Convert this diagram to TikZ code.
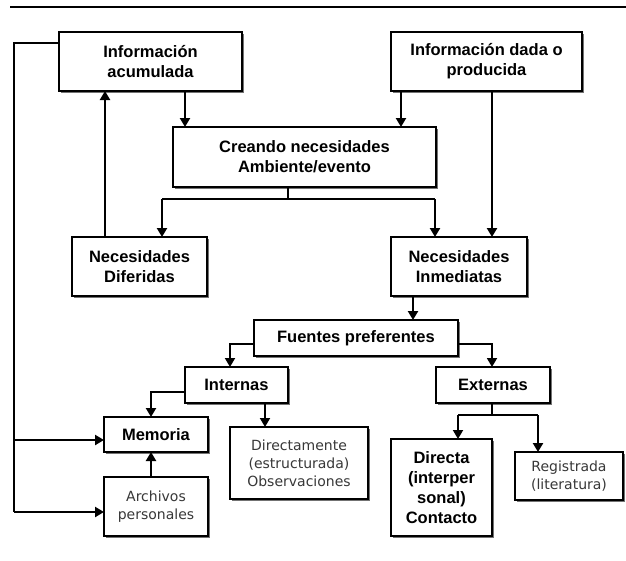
\documentclass[tikz,border=0pt]{standalone}
\usepackage{fontspec}
\setmainfont{Liberation Sans}
\newfontfamily\dvfont{DejaVu Sans}
\usetikzlibrary{arrows.meta,shadows}
\begin{document}
\begin{tikzpicture}[x=1pt,y=-1pt,
  box/.style={draw,line width=1.5pt,fill=white,align=center,inner sep=2pt,outer sep=0pt,
    font=\bfseries\fontsize{16.5}{20}\selectfont,
    drop shadow={shadow xshift=1.5pt,shadow yshift=-1.5pt,fill=black!55,opacity=1}},
  greybox/.style={box,font=\dvfont\fontsize{14}{18}\selectfont,text=black!78},
  thinln/.style={line width=1.3pt},
  arr/.style={line width=2.6pt,-{Triangle[width=10pt,length=9pt]}},
  marr/.style={line width=1.8pt,-{Triangle[width=10pt,length=9pt]}}]
\useasboundingbox (0,0) rectangle (626,560);
% top rule
\coordinate (r1) at (10,7);
\coordinate (r2) at (626,7);
\draw[thinln] (r1) -- (r2);
% nodes
\node[box,minimum width=183pt,minimum height=59pt] (ia) at (150.5,61.5) {Información\\acumulada};
\node[box,minimum width=191pt,minimum height=59pt] (id) at (486.5,61.5) {Información dada o\\producida};
\node[box,minimum width=263pt,minimum height=60pt] (cr) at (304.5,157) {Creando necesidades\\Ambiente/evento};
\node[box,minimum width=135pt,minimum height=59pt] (nd) at (139.5,266.5) {Necesidades\\Diferidas};
\node[box,minimum width=136pt,minimum height=59pt] (ni) at (459,266.5) {Necesidades\\Inmediatas};
\node[box,minimum width=204pt,minimum height=36pt] (fp) at (356,338) {Fuentes preferentes};
\node[box,minimum width=103pt,minimum height=36pt] (in) at (236.5,385) {Internas};
\node[box,minimum width=114pt,minimum height=36pt] (ex) at (493,385) {Externas};
\node[box,minimum width=104pt,minimum height=35pt] (me) at (156,434.5) {Memoria};
\node[greybox,minimum width=104pt,minimum height=59pt] (ar) at (156,506.5) {Archivos\\personales};
\node[greybox,minimum width=138pt,minimum height=72pt] (di) at (299,463) {Directamente\\(estructurada)\\Observaciones};
\node[box,minimum width=101pt,minimum height=97pt] (dc) at (441.5,487.5) {Directa\\(interper\\sonal)\\Contacto};
\node[greybox,minimum width=108pt,minimum height=48pt] (re) at (569,476) {Registrada\\(literatura)};
% connectors
\draw[arr] ([xshift=126pt]ia.south west) -- ([xshift=12pt]cr.north west);
\draw[arr] ([xshift=10pt]id.south west) -- ([xshift=-35pt]cr.north east);
\draw[arr] ([xshift=101pt]id.south west) -- ([xshift=101pt]ni.north west);
\draw[arr] ([xshift=33pt]nd.north west) -- ([xshift=46pt]ia.south west);
\coordinate (c1) at ([xshift=-16.5pt]cr.south);
\coordinate (j1) at ([yshift=-12pt]c1);
\coordinate (t1) at ([xshift=22.5pt]nd.north);
\coordinate (t2) at ([xshift=44pt]ni.north west);
\draw[thinln] (c1) -- (j1);
\draw[thinln] (t1 |- j1) -- (t2 |- j1);
\draw[arr] (t1 |- j1) -- (t1);
\draw[arr] (t2 |- j1) -- (t2);
\draw[arr] ([xshift=22pt]ni.south west) -- ([xshift=159pt]fp.north west);
\coordinate (f1) at ([yshift=-6pt]fp.west);
\coordinate (f2) at ([yshift=-6pt]fp.east);
\coordinate (t3) at ([xshift=45pt]in.north west);
\coordinate (t4) at ([xshift=56pt]ex.north west);
\draw[marr] (f1) -| (t3);
\draw[marr] (f2) -| (t4);
\draw[arr] ([yshift=-7pt]in.west) -| ([xshift=47pt]me.north west);
\draw[marr] ([xshift=80pt]in.south west) -- ([xshift=35pt]di.north west);
\draw[arr] ([xshift=47pt]ar.north west) -- ([xshift=47pt]me.south west);
\coordinate (e1) at ([xshift=56pt]ex.south west);
\coordinate (j2) at ([yshift=-12pt]e1);
\coordinate (t5) at ([xshift=67pt]dc.north west);
\coordinate (t6) at ([xshift=23pt]re.north west);
\draw[thinln] (e1) -- (j2);
\draw[line width=1.6pt] (t5 |- j2) -- (t6 |- j2);
\draw[marr] (t5 |- j2) -- (t5);
\draw[arr] (t6 |- j2) -- (t6);
\coordinate (l1) at ([yshift=18.5pt]ia.west);
\coordinate (lt) at ([xshift=-45pt]l1);
\coordinate (m2) at ([yshift=-5.5pt]me.west);
\coordinate (a2) at ([yshift=-5.5pt]ar.west);
\draw[thinln] (l1) -- (lt) -- (lt |- a2);
\draw[arr] (lt |- m2) -- (m2);
\draw[arr] (lt |- a2) -- (a2);
\end{tikzpicture}
\end{document}
